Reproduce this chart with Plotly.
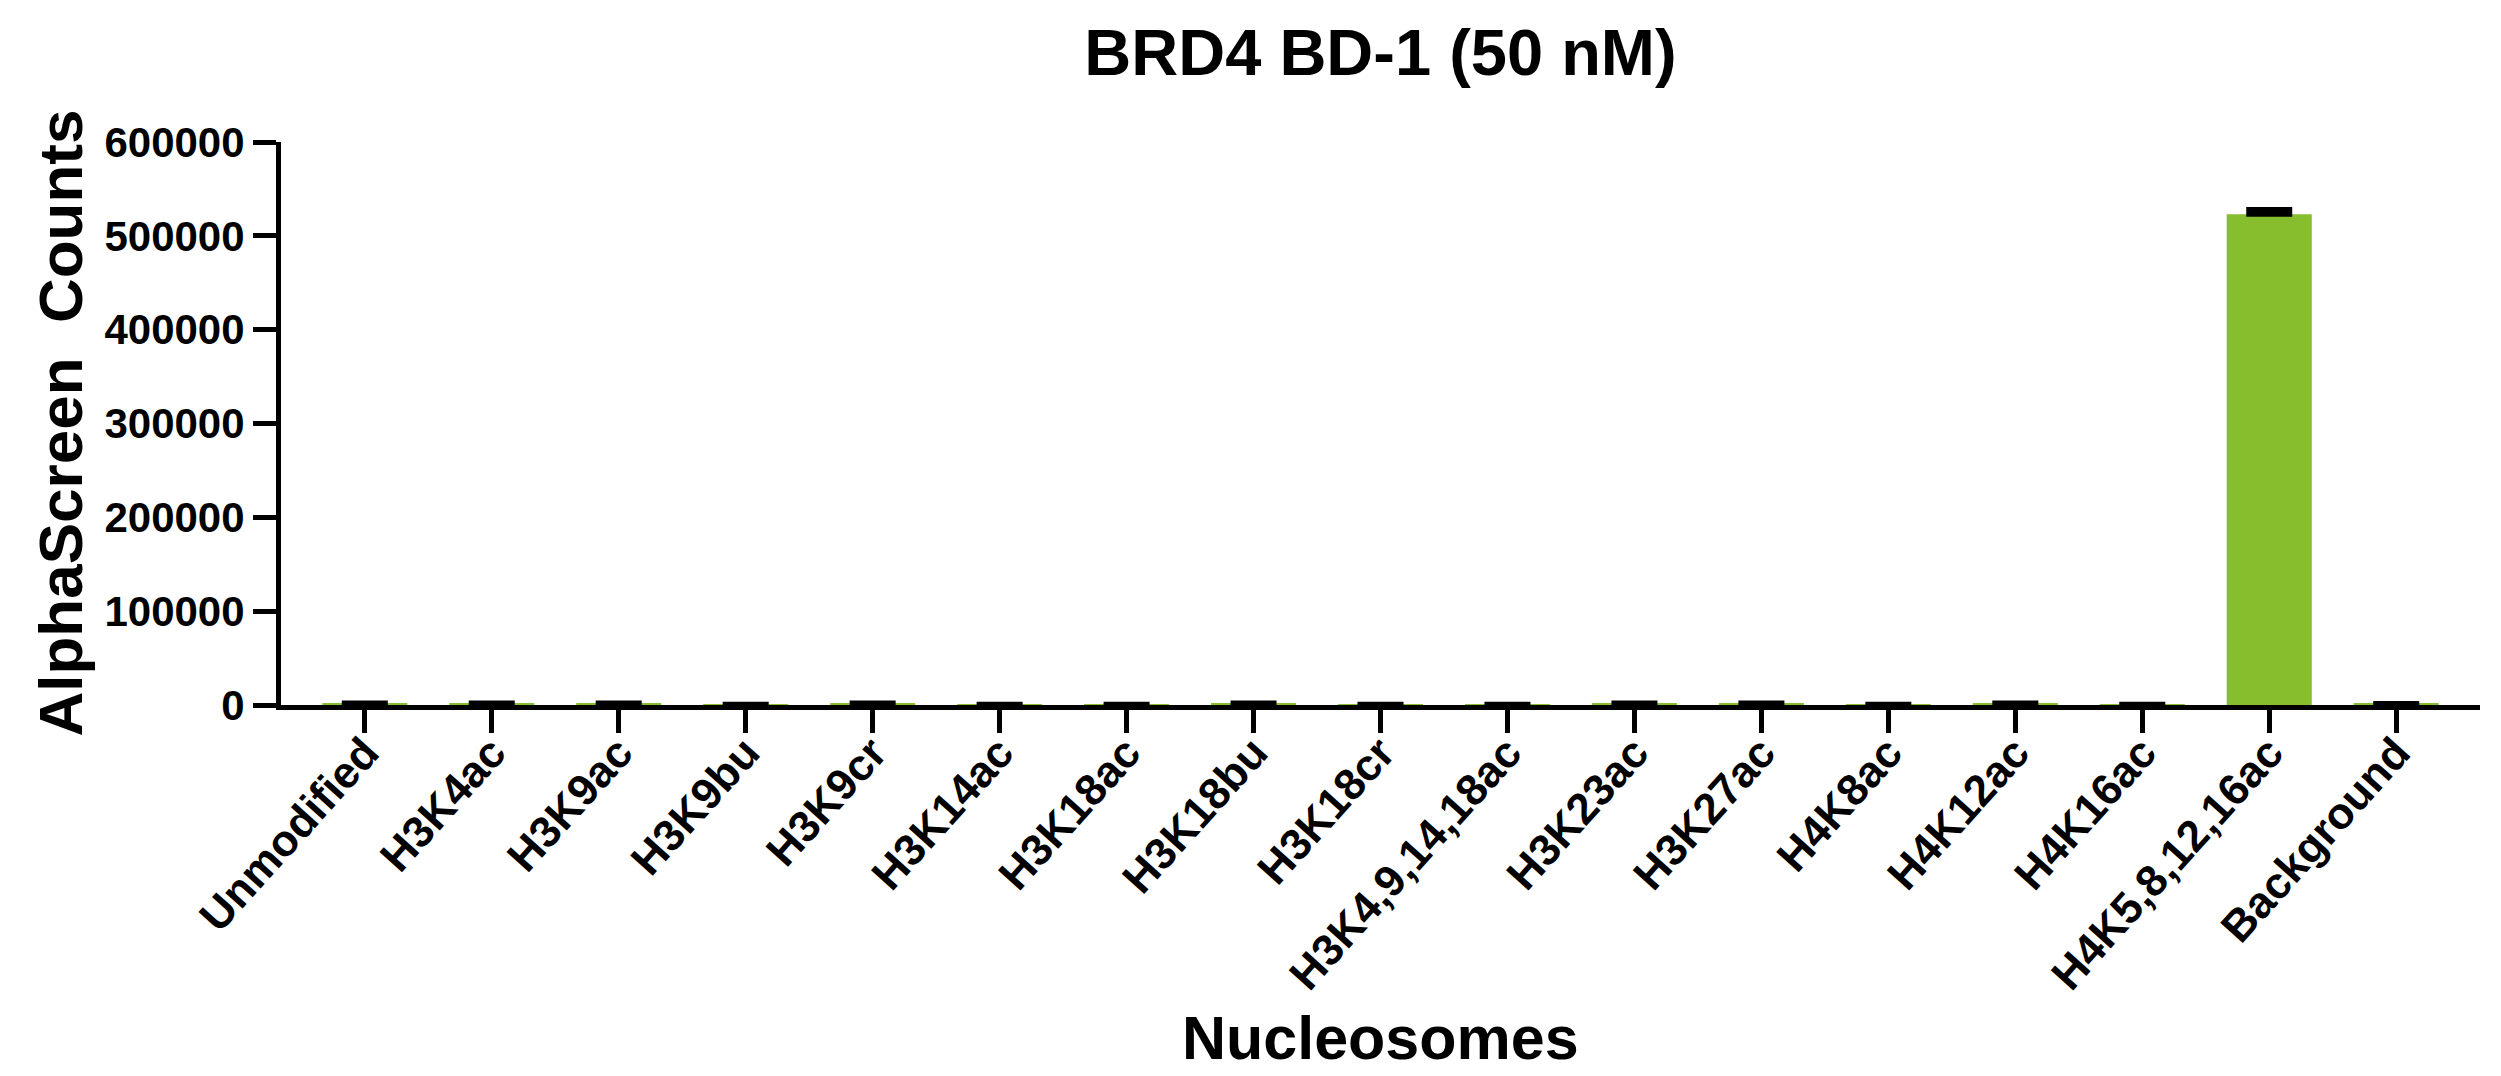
import plotly.graph_objects as go

# nucleosome panel, BRD4 BD-1 at 50 nM
CATEGORIES = [
    "Unmodified", "H3K4ac", "H3K9ac", "H3K9bu", "H3K9cr", "H3K14ac",
    "H3K18ac", "H3K18bu", "H3K18cr", "H3K4,9,14,18ac", "H3K23ac",
    "H3K27ac", "H4K8ac", "H4K12ac", "H4K16ac", "H4K5,8,12,16ac", "Background",
]
COUNTS = [1500, 1500, 1500, 500, 1500, 500, 500, 1500, 500, 500, 1500,
          1500, 500, 1500, 500, 523000, 1200]
SD = [600, 600, 600, 200, 600, 200, 200, 600, 200, 200, 600,
      600, 200, 600, 200, 5000, 400]
Y_TICKS = [0, 100000, 200000, 300000, 400000, 500000, 600000]

GREEN = "#87BE2E"
FONT = "Liberation Sans, Arial, sans-serif"

# page body adds an 8px offset, so the figure is a bit smaller than the window
W, H = 2493, 1068
L, R, T, B = 273, 21, 134, 371
PW, PH = W - L - R, H - T - B

fig = go.Figure()
fig.add_trace(go.Bar(
    x=CATEGORIES,
    y=COUNTS,
    marker=dict(color=GREEN, line=dict(width=0)),
    error_y=dict(type="data", array=SD, arrayminus=[0] * len(SD),
                 symmetric=False, color="black", thickness=5, width=23),
    showlegend=False,
))

fig.update_layout(
    width=W,
    height=H,
    margin=dict(l=L, r=R, t=T, b=B),
    paper_bgcolor="white",
    plot_bgcolor="white",
    bargap=0.33,
    font=dict(family=FONT, color="black", weight="bold"),
    title=dict(text="BRD4 BD-1 (50 nM)", xref="paper", x=0.5, xanchor="center",
               y=1 - 44 / H, yanchor="middle",
               font=dict(size=65, family=FONT, weight="bold")),
)

fig.update_xaxes(
    type="category",
    range=[-0.66, len(CATEGORIES) - 1 + 0.66],
    showline=True, linewidth=5, linecolor="black",
    ticks="outside", ticklen=23, tickwidth=5, tickcolor="black",
    tickangle=-48,
    ticklabelstandoff=-24,
    tickfont=dict(size=44, family=FONT, weight="bold"),
    showgrid=False, zeroline=False,
)
fig.update_yaxes(
    range=[0, 600000],
    tickvals=Y_TICKS,
    ticktext=[str(v) for v in Y_TICKS],
    showline=True, linewidth=5, linecolor="black",
    ticks="outside", ticklen=23, tickwidth=5, tickcolor="black",
    tickfont=dict(size=42, family=FONT, weight="bold"),
    showgrid=False, zeroline=False,
)

fig.add_annotation(text="AlphaScreen  Counts", xref="paper", yref="paper",
                   x=-(L - 52) / PW, y=0.5, xanchor="center", yanchor="middle",
                   textangle=-90, showarrow=False,
                   font=dict(size=62, family=FONT, weight="bold"))
fig.add_annotation(text="Nucleosomes", xref="paper", yref="paper",
                   x=0.5, y=-(1030 - (T + PH)) / PH, xanchor="center", yanchor="middle",
                   showarrow=False,
                   font=dict(size=61, family=FONT, weight="bold"))

fig.write_html("out.html")
